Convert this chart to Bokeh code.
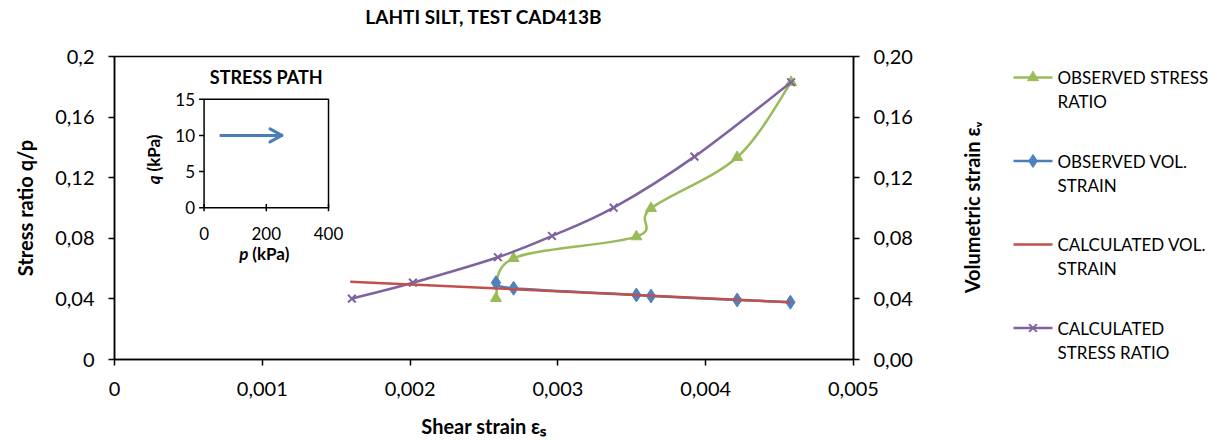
import math
from bokeh.plotting import figure
from bokeh.layouts import row
from bokeh.models import Range1d, LinearAxis, FixedTicker, ColumnDataSource, Title, LabelSet
from bokeh.core.properties import value
from bokeh.embed import file_html
from bokeh.resources import INLINE

# ---------------- data ----------------
title_text = "LAHTI SILT, TEST CAD413B"

x_ticks = [0, 0.001, 0.002, 0.003, 0.004, 0.005]
x_tick_labels = ["0", "0,001", "0,002", "0,003", "0,004", "0,005"]
y_left_ticks = [0, 0.04, 0.08, 0.12, 0.16, 0.2]
y_left_labels = ["0", "0,04", "0,08", "0,12", "0,16", "0,2"]
y_right_ticks = [0, 0.04, 0.08, 0.12, 0.16, 0.2]
y_right_labels = ["0,00", "0,04", "0,08", "0,12", "0,16", "0,20"]

# observed stress ratio (left axis)
obs_sr_x = [0.002581, 0.002700, 0.003531, 0.003630, 0.004213, 0.004578]
obs_sr_y = [0.0404, 0.0668, 0.0811, 0.0998, 0.1335, 0.1830]
# observed volumetric strain (right axis)
obs_vol_x = [0.002581, 0.002700, 0.003531, 0.003630, 0.004213, 0.004573]
obs_vol_y = [0.0507, 0.0470, 0.0426, 0.0419, 0.0393, 0.0378]
# calculated volumetric strain (right axis)
calc_vol_x = [0.001595, 0.004573]
calc_vol_y = [0.0514, 0.0378]
# calculated stress ratio (left axis)
calc_sr_x = [0.001606, 0.002019, 0.002594, 0.002960, 0.003377, 0.003924, 0.004578]
calc_sr_y = [0.0402, 0.0507, 0.0675, 0.0815, 0.1002, 0.1339, 0.1830]

# inset: stress path
inset_title = "STRESS PATH"
inset_p_ticks = [0, 200, 400]
inset_p_labels = ["0", "200", "400"]
inset_q_ticks = [0, 5, 10, 15]
inset_q_labels = ["0", "5", "10", "15"]
path_p = [50, 250]
path_q = [10, 10]

right_axis_label = "Volumetric strain εᵥ"
legend_labels = [["OBSERVED STRESS", "RATIO"], ["OBSERVED VOL.", "STRAIN"],
                 ["CALCULATED VOL.", "STRAIN"], ["CALCULATED", "STRESS RATIO"]]

# ---------------- style ----------------
FONT = "Lato"
GREEN = "#9bbb59"
BLUE = "#4a7ebb"
BLUE_M = "#4f81bd"
RED = "#c0504d"
PURPLE = "#7f63a1"
legend_colors = [GREEN, BLUE, RED, PURPLE]
legend_markers = ["triangle", "diamond", None, "x"]


def smooth(xs, ys):
    """Bezier segments of a smoothed (Catmull-Rom style) line through the points."""
    n = len(xs)
    d = {k: [] for k in ("x0", "y0", "x1", "y1", "cx0", "cy0", "cx1", "cy1")}
    for i in range(n - 1):
        a = max(i - 1, 0)
        b = min(i + 2, n - 1)
        d["x0"].append(xs[i]); d["y0"].append(ys[i])
        d["x1"].append(xs[i + 1]); d["y1"].append(ys[i + 1])
        d["cx0"].append(xs[i] + (xs[i + 1] - xs[a]) / 6.0)
        d["cy0"].append(ys[i] + (ys[i + 1] - ys[a]) / 6.0)
        d["cx1"].append(xs[i + 1] - (xs[b] - xs[i]) / 6.0)
        d["cy1"].append(ys[i + 1] - (ys[b] - ys[i]) / 6.0)
    return ColumnDataSource(d)


TOP, BOTTOM, H = 56, 86, 445

p = figure(width=928, height=H,
           x_range=Range1d(0, 0.005), y_range=Range1d(0, 0.2),
           output_backend="svg", toolbar_location=None,
           min_border_left=114, min_border_right=75,
           min_border_top=TOP, min_border_bottom=BOTTOM,
           title=None)
p.extra_y_ranges = {"vol": Range1d(0, 0.2)}

# spacer between frame and title, then the title itself
p.add_layout(Title(text=" ", text_font_size="1px", standoff=24), "above")
p.add_layout(Title(text=title_text, align="center", text_font=FONT,
                   text_font_size="19px", text_font_style="bold",
                   text_color="black", standoff=4), "above")

p.xgrid.visible = False
p.ygrid.visible = False
p.outline_line_color = "black"
p.outline_line_width = 1.5
p.background_fill_color = "white"
p.border_fill_color = "white"


def style_axis(ax, ticks, labels, label):
    ax.ticker = FixedTicker(ticks=ticks)
    ax.major_label_overrides = {t: l for t, l in zip(ticks, labels)}
    ax.minor_tick_line_color = None
    ax.major_tick_in = 0
    ax.major_tick_out = 6
    ax.major_tick_line_color = "black"
    ax.major_tick_line_width = 1.5
    ax.axis_line_color = "black"
    ax.axis_line_width = 1.5
    ax.major_label_text_font = FONT
    ax.major_label_text_font_size = "20px"
    ax.major_label_text_color = "black"
    ax.major_label_standoff = 14
    ax.axis_label = label
    ax.axis_label_text_font = FONT
    ax.axis_label_text_font_size = "20px"
    ax.axis_label_text_font_style = "bold"
    ax.axis_label_text_color = "black"


style_axis(p.xaxis[0], x_ticks, x_tick_labels, "Shear strain εₛ")
p.xaxis[0].major_label_standoff = 16
p.xaxis[0].axis_label_standoff = 15
style_axis(p.yaxis[0], y_left_ticks, y_left_labels, "Stress ratio q/p")
p.yaxis[0].axis_label_standoff = 15

ax_r = LinearAxis(y_range_name="vol")
style_axis(ax_r, y_right_ticks, y_right_labels, None)
p.add_layout(ax_r, "right")

# ---------------- series ----------------
p.bezier(x0="x0", y0="y0", x1="x1", y1="y1", cx0="cx0", cy0="cy0", cx1="cx1", cy1="cy1",
         source=smooth(obs_sr_x, obs_sr_y), line_color=GREEN, line_width=2.5)
p.scatter(obs_sr_x, obs_sr_y, marker="triangle", size=11, fill_color=GREEN, line_color=GREEN)

p.bezier(x0="x0", y0="y0", x1="x1", y1="y1", cx0="cx0", cy0="cy0", cx1="cx1", cy1="cy1",
         source=smooth(calc_sr_x, calc_sr_y), line_color=PURPLE, line_width=2.5)
p.scatter(calc_sr_x, calc_sr_y, marker="x", size=11, line_color=PURPLE, line_width=2)

p.bezier(x0="x0", y0="y0", x1="x1", y1="y1", cx0="cx0", cy0="cy0", cx1="cx1", cy1="cy1",
         source=smooth(obs_vol_x, obs_vol_y), line_color=BLUE, line_width=2.5,
         y_range_name="vol")
p.scatter(obs_vol_x, obs_vol_y, marker="diamond", size=14,
          fill_color=BLUE_M, line_color=BLUE_M, y_range_name="vol")

p.line(calc_vol_x, calc_vol_y, line_color=RED, line_width=2.5, y_range_name="vol")

# ---------------- inset ----------------
ins = p.subplot(x_source=Range1d(0, 400), y_source=Range1d(0, 15),
                x_target=Range1d(0.000606, 0.001448), y_target=Range1d(0.1002, 0.17175))
ins.quad(left=[inset_p_ticks[0]], right=[inset_p_ticks[-1]],
         bottom=[inset_q_ticks[0]], top=[inset_q_ticks[-1]],
         fill_color=None, line_color="black", line_width=1.5)
ins.segment(x0=[0] * len(inset_q_ticks), y0=inset_q_ticks,
            x1=[-16] * len(inset_q_ticks), y1=inset_q_ticks,
            line_color="black", line_width=1.5)
ins.segment(x0=inset_p_ticks, y0=[-0.5] * len(inset_p_ticks),
            x1=inset_p_ticks, y1=[0.5] * len(inset_p_ticks),
            line_color="black", line_width=1.5)
ins.text(x=[0] * len(inset_q_ticks), y=inset_q_ticks, text=inset_q_labels,
         x_offset=-9, text_align="right", text_baseline="middle",
         text_font=value(FONT), text_font_size="17px", text_color="black")
ins.text(x=inset_p_ticks, y=[0] * len(inset_p_ticks), text=inset_p_labels,
         y_offset=26, text_align="center", text_baseline="middle",
         text_font=value(FONT), text_font_size="17px", text_color="black")
ins.text(x=[200], y=[15], text=[inset_title], y_offset=-22,
         text_align="center", text_baseline="middle",
         text_font=value(FONT), text_font_size="18px", text_font_style="bold",
         text_color="black")
ins.text(x=[200], y=[0], text=["p"], x_offset=-18, y_offset=46,
         text_align="right", text_baseline="middle",
         text_font=value(FONT), text_font_size="17px", text_font_style="bold italic",
         text_color="black")
ins.text(x=[200], y=[0], text=["(kPa)"], x_offset=-14, y_offset=46,
         text_align="left", text_baseline="middle",
         text_font=value(FONT), text_font_size="17px", text_font_style="bold",
         text_color="black")
ins.text(x=[0], y=[7.5], text=["q"], x_offset=-51, y_offset=22,
         angle=math.pi / 2, text_align="right", text_baseline="middle",
         text_font=value(FONT), text_font_size="17px", text_font_style="bold italic",
         text_color="black")
ins.text(x=[0], y=[7.5], text=["(kPa)"], x_offset=-51, y_offset=18,
         angle=math.pi / 2, text_align="left", text_baseline="middle",
         text_font=value(FONT), text_font_size="17px", text_font_style="bold",
         text_color="black")
# stress path arrow
ins.line(path_p, path_q, line_color=BLUE, line_width=3)
ins.segment(x0=[path_p[-1]] * 2, y0=[path_q[-1]] * 2,
            x1=[path_p[-1] - 38] * 2, y1=[path_q[-1] + 0.9, path_q[-1] - 0.9],
            line_color=BLUE, line_width=3, line_cap="round")

# ---------------- side panel: right-axis title + legend ----------------
# the side panel's frame is aligned with the main frame; its ranges are in page pixels
QW = 297
q = figure(width=QW, height=H, x_range=Range1d(0, QW), y_range=Range1d(H - BOTTOM, TOP),
           output_backend="svg", toolbar_location=None,
           min_border_left=0, min_border_right=0,
           min_border_top=TOP, min_border_bottom=BOTTOM,
           x_axis_type=None, y_axis_type=None)
q.grid.visible = False
q.outline_line_color = None
q.background_fill_color = "white"
q.border_fill_color = "white"

q.text(x=[43], y=[207], text=[right_axis_label], angle=math.pi / 2,
       text_align="center", text_baseline="middle",
       text_font=value(FONT), text_font_size="20px", text_font_style="bold",
       text_color="black")

LEG_X0, LEG_X1, LEG_TX = 85, 124, 129
LEG_TOP, LEG_PITCH, LEG_LINE = 77, 83.5, 24
lab_x, lab_y, lab_t = [], [], []
for i, (lines, col, mk) in enumerate(zip(legend_labels, legend_colors, legend_markers)):
    yy = LEG_TOP + i * LEG_PITCH
    q.segment(x0=[LEG_X0], y0=[yy], x1=[LEG_X1], y1=[yy], line_color=col, line_width=2.5)
    xm = (LEG_X0 + LEG_X1) / 2
    if mk == "x":
        q.scatter([xm], [yy], marker="x", size=11, line_color=col, line_width=2)
    elif mk == "diamond":
        q.scatter([xm], [yy], marker="diamond", size=13, fill_color=BLUE_M, line_color=BLUE_M)
    elif mk is not None:
        q.scatter([xm], [yy], marker=mk, size=11, fill_color=col, line_color=col)
    for k, t in enumerate(lines):
        lab_x.append(LEG_TX)
        lab_y.append(yy + k * LEG_LINE)
        lab_t.append(t)

q.add_layout(LabelSet(x="x", y="y", text="text",
                      source=ColumnDataSource(dict(x=lab_x, y=lab_y, text=lab_t)),
                      text_align="left", text_baseline="middle",
                      text_font=value(FONT), text_font_size="17px", text_color="black"))

page = row(p, q, spacing=0)
open("out.html", "w").write(file_html(page, INLINE))
